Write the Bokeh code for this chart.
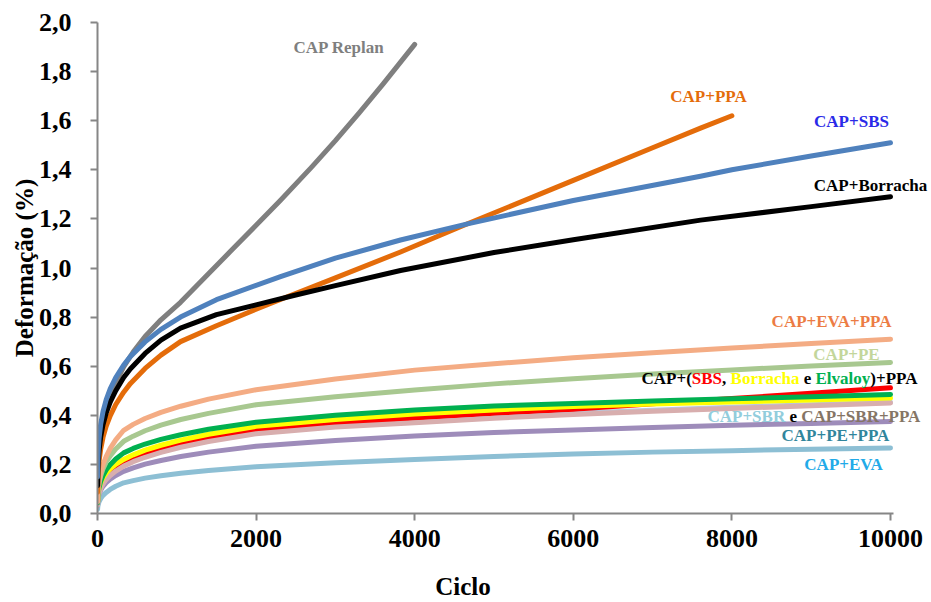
from bokeh.plotting import figure
from bokeh.models import Range1d, FixedTicker, CustomJSTickFormatter
from bokeh.embed import file_html
from bokeh.resources import INLINE
from bokeh.core.properties import value

# Cycle counts at which the low-strain curves are sampled
ciclo = [1, 4, 10, 20, 40, 70, 110, 160, 230, 330, 450, 600, 800, 1050, 1400,
         2000, 3000, 4000, 5000, 6000, 7000, 8000, 9000, 10000]

# Permanent deformation (%) of the binders with low strain
cap_eva_ppa = [0.047, 0.076, 0.103, 0.131, 0.165, 0.200, 0.233, 0.265, 0.300, 0.339, 0.363, 0.387,
               0.412, 0.437, 0.466, 0.504, 0.548, 0.584, 0.610, 0.634, 0.655, 0.674, 0.692, 0.710]
cap_pe = [0.049, 0.076, 0.100, 0.124, 0.153, 0.182, 0.210, 0.235, 0.263, 0.294, 0.315, 0.337,
          0.360, 0.383, 0.408, 0.443, 0.476, 0.503, 0.528, 0.549, 0.568, 0.585, 0.601, 0.615]
cap_elvaloy_ppa = [0.043, 0.066, 0.086, 0.107, 0.131, 0.155, 0.178, 0.199, 0.222, 0.247, 0.265, 0.283,
                   0.302, 0.321, 0.343, 0.372, 0.400, 0.422, 0.438, 0.448, 0.458, 0.467, 0.476, 0.485]
cap_borracha_ppa = [0.045, 0.066, 0.086, 0.104, 0.125, 0.146, 0.165, 0.182, 0.200, 0.220, 0.239, 0.258,
                    0.278, 0.299, 0.323, 0.355, 0.383, 0.405, 0.422, 0.436, 0.446, 0.454, 0.462, 0.470]
cap_sbs_ppa = [0.047, 0.064, 0.081, 0.096, 0.115, 0.134, 0.152, 0.168, 0.186, 0.206, 0.224, 0.242,
               0.262, 0.283, 0.306, 0.338, 0.366, 0.389, 0.408, 0.425, 0.447, 0.468, 0.490, 0.512]
cap_sbr = [0.037, 0.054, 0.071, 0.086, 0.105, 0.124, 0.142, 0.158, 0.176, 0.196, 0.214, 0.232,
           0.252, 0.273, 0.296, 0.328, 0.355, 0.375, 0.393, 0.408, 0.421, 0.433, 0.443, 0.453]
cap_sbr_ppa = [0.034, 0.051, 0.068, 0.083, 0.102, 0.121, 0.139, 0.155, 0.173, 0.193, 0.211, 0.229,
               0.249, 0.270, 0.293, 0.325, 0.352, 0.370, 0.388, 0.403, 0.416, 0.428, 0.439, 0.450]
cap_pe_ppa = [0.033, 0.049, 0.064, 0.078, 0.095, 0.111, 0.126, 0.140, 0.155, 0.172, 0.186, 0.201,
              0.216, 0.232, 0.250, 0.274, 0.297, 0.316, 0.330, 0.340, 0.350, 0.359, 0.367, 0.375]
cap_eva = [0.017, 0.028, 0.038, 0.048, 0.061, 0.074, 0.086, 0.098, 0.111, 0.125, 0.134, 0.144,
           0.154, 0.164, 0.175, 0.190, 0.207, 0.220, 0.232, 0.242, 0.250, 0.256, 0.262, 0.267]

# Binders with large strain, each with its own cycle range
ciclo_replan = [1, 4, 10, 20, 40, 70, 110, 160, 230, 330, 454, 600, 800, 1047, 1350, 1677,
                2000, 2308, 2700, 3000, 3300, 3600, 4000]
cap_replan = [0.095, 0.148, 0.198, 0.246, 0.306, 0.366, 0.422, 0.475, 0.532, 0.597, 0.660, 0.721,
              0.789, 0.860, 0.960, 1.068, 1.174, 1.276, 1.411, 1.519, 1.632, 1.749, 1.911]

ciclo_ppa = [1, 4, 10, 20, 40, 70, 110, 160, 230, 330, 416, 600, 800, 1047, 1500, 2000, 2370,
             3000, 3821, 4666, 6000, 7000, 7604, 8000]
cap_ppa = [0.087, 0.132, 0.173, 0.213, 0.262, 0.311, 0.356, 0.398, 0.444, 0.494, 0.530, 0.591,
           0.645, 0.700, 0.765, 0.832, 0.880, 0.960, 1.065, 1.180, 1.357, 1.490, 1.570, 1.620]

ciclo_sbs = [1, 4, 10, 20, 40, 70, 110, 160, 230, 330, 416, 600, 800, 1047, 1500, 2308, 3000,
             3821, 4666, 6000, 7604, 8000, 9000, 10000]
cap_sbs = [0.149, 0.208, 0.260, 0.307, 0.363, 0.416, 0.464, 0.508, 0.554, 0.605, 0.640, 0.699,
           0.750, 0.800, 0.871, 0.965, 1.040, 1.114, 1.180, 1.275, 1.374, 1.400, 1.456, 1.510]

ciclo_borracha = [1, 4, 10, 20, 40, 70, 110, 160, 230, 330, 416, 600, 800, 1047, 1500, 2000,
                  2500, 3000, 3821, 5000, 6000, 7604, 9000, 10000]
cap_borracha = [0.113, 0.165, 0.212, 0.257, 0.311, 0.362, 0.410, 0.454, 0.500, 0.554, 0.590, 0.652,
                0.706, 0.755, 0.810, 0.850, 0.890, 0.928, 0.990, 1.063, 1.115, 1.195, 1.250, 1.290]

x_ticks = [0, 2000, 4000, 6000, 8000, 10000]
y_ticks = [0.0, 0.2, 0.4, 0.6, 0.8, 1.0, 1.2, 1.4, 1.6, 1.8, 2.0]

SERIF = "Liberation Serif"
LABEL_PX = 17
LINE_W = 5

# Frame spans 97..928 px; the data area ends at 10000 cycles (~890 px),
# the extra room on the right holds the curve labels.
p = figure(
    width=931, height=602,
    x_range=Range1d(0, 10479), y_range=Range1d(0, 2.0),
    output_backend="svg", toolbar_location=None,
    min_border_left=97, min_border_right=3, min_border_top=22, min_border_bottom=88,
)
p.outline_line_color = None
p.xgrid.visible = False
p.ygrid.visible = False
p.background_fill_color = "white"
p.border_fill_color = "white"

lower = [
    (cap_eva, "#8dbfd4"),
    (cap_pe_ppa, "#9e8cba"),
    (cap_sbr, "#b9c6dc"),
    (cap_sbs_ppa, "#ff0000"),
    (cap_sbr_ppa, "#d8aeae"),
    (cap_borracha_ppa, "#ffff00"),
    (cap_elvaloy_ppa, "#00b050"),
    (cap_pe, "#a8c890"),
    (cap_eva_ppa, "#f4ac84"),
]
for ys, col in lower:
    p.line(ciclo, ys, line_color=col, line_width=LINE_W, line_cap="round", line_join="round")

upper = [
    (ciclo_replan, cap_replan, "#7f7f7f"),
    (ciclo_ppa, cap_ppa, "#e46c0a"),
    (ciclo_borracha, cap_borracha, "#000000"),
    (ciclo_sbs, cap_sbs, "#4f81bd"),
]
for xs, ys, col in upper:
    p.line(xs, ys, line_color=col, line_width=LINE_W, line_cap="round", line_join="round")

# Advance widths (1/1000 em) of the bold serif face, for laying out multi-coloured labels
ADV = {"C": 722, "A": 722, "P": 611, "+": 570, "(": 333, ")": 333, "S": 556, "B": 667,
       "R": 722, "E": 667, ",": 250, " ": 250, "o": 500, "r": 444, "a": 500, "c": 444,
       "h": 556, "e": 444, "l": 278, "v": 500, "y": 500}


def text_width(s):
    return sum(ADV.get(ch, 500) for ch in s) * LABEL_PX / 1000.0


def label(x, y, txt, color, align="center", dx=0.0):
    p.text(x=[x], y=[y], text=[txt], text_color=color, text_font=value(SERIF),
           text_font_style="bold", text_font_size=f"{LABEL_PX}px",
           text_align=align, text_baseline="middle", x_offset=dx)


def label_runs(x, y, runs):
    # spaces only advance the pen; they are never drawn as text
    dx = 0.0
    for txt, col in runs:
        if txt.strip():
            label(x, y, txt, col, align="left", dx=dx)
        dx += text_width(txt)


label(3045, 1.898, "CAP Replan", "#7f7f7f")
label(7705, 1.700, "CAP+PPA", "#e46c0a")
label(9508, 1.598, "CAP+SBS", "#2a2ae8")
label(9748, 1.337, "CAP+Borracha", "#000000")
label(9256, 0.782, "CAP+EVA+PPA", "#ec7c44")
label(9445, 0.646, "CAP+PE", "#c3d69b")

label_runs(6860, 0.548, [
    ("CAP+(", "#000000"), ("SBS", "#ff0000"), (",", "#000000"), (" ", None),
    ("Borracha", "#ffff00"), (" ", None), ("e", "#000000"), (" ", None),
    ("Elvaloy", "#00b050"), (")+PPA", "#000000"),
])
label_runs(7692, 0.396, [
    ("CAP+SBR", "#92cddc"), (" ", None), ("e", "#000000"), (" ", None),
    ("CAP+SBR+PPA", "#857565"),
])

label(9306, 0.317, "CAP+PE+PPA", "#31859c")
label(9407, 0.199, "CAP+EVA", "#22aae8")

# Axes
for ax in (p.xaxis[0], p.yaxis[0]):
    ax.axis_line_color = "#868686"
    ax.axis_line_width = 2
    ax.major_tick_line_color = "#868686"
    ax.major_tick_line_width = 2
    ax.major_tick_in = 0
    ax.major_tick_out = 7
    ax.minor_tick_line_color = None
    ax.major_label_text_font = SERIF
    ax.major_label_text_font_style = "bold"
    ax.major_label_text_font_size = "26px"
    ax.major_label_text_color = "#000000"
    ax.axis_label_text_font = SERIF
    ax.axis_label_text_font_style = "bold"
    ax.axis_label_text_font_size = "25px"
    ax.axis_label_text_color = "#000000"

p.xaxis.bounds = (0, 10040)
p.xaxis.ticker = FixedTicker(ticks=x_ticks)
p.yaxis.ticker = FixedTicker(ticks=y_ticks)
p.yaxis.formatter = CustomJSTickFormatter(code="return tick.toFixed(1).replace('.', ',');")
p.xaxis.formatter = CustomJSTickFormatter(code="return tick.toFixed(0);")
# trailing no-break spaces move the centred title left, under the data area
p.xaxis.axis_label = "Ciclo" + "\u00a0" * 16
p.yaxis.axis_label = "Deformação (%)"
p.xaxis.major_label_standoff = 9
p.xaxis.axis_label_standoff = 23
p.yaxis.major_label_standoff = 19
p.yaxis.axis_label_standoff = -2

open("out.html", "w").write(file_html(p, INLINE))
